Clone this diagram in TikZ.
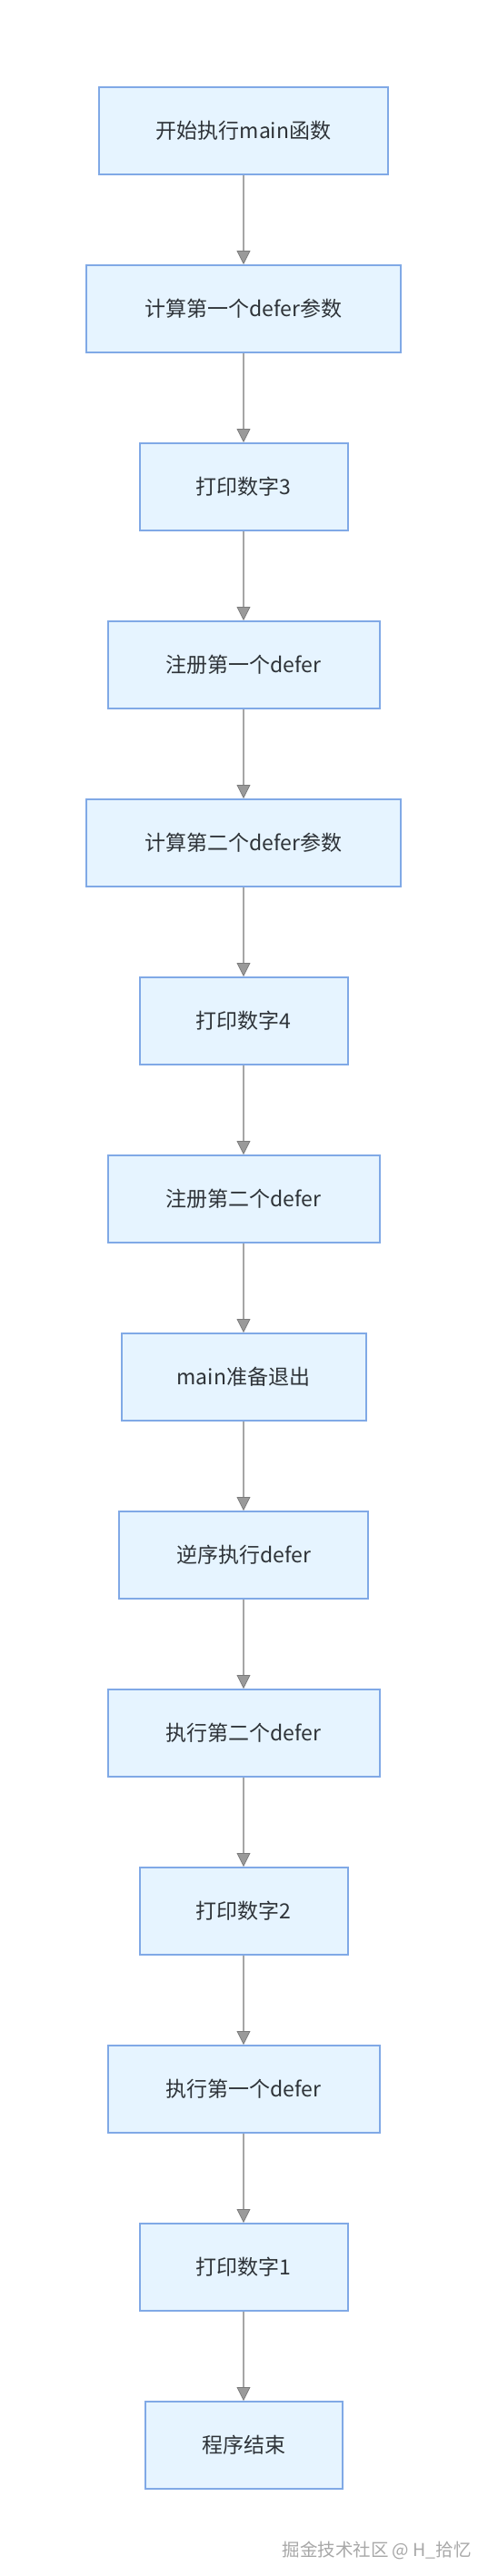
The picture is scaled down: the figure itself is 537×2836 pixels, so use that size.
\documentclass[tikz,border=0pt]{standalone}
\usepackage{fontspec}
\setmainfont{Noto Sans CJK SC}
\newfontfamily\cjk{Noto Sans CJK SC}
\usetikzlibrary{arrows.meta}
\definecolor{boxfill}{HTML}{E6F4FF}
\definecolor{boxline}{HTML}{80A9E6}
\definecolor{txtcol}{HTML}{2E3338}
\definecolor{arrcol}{HTML}{A6A6A6}
\definecolor{tipcol}{HTML}{9A9A9A}
\definecolor{wmcol}{HTML}{A8A8A8}
\tikzset{
  stepbox/.style={draw=boxline, fill=boxfill, line width=2pt, minimum height=96pt,
    inner sep=0pt, text=txtcol, font=\cjk\fontsize{23}{28}\selectfont},
  flowarr/.style={draw=arrcol, line width=1.5pt,
    -{Triangle[width=15pt,length=15pt,fill=tipcol,color=tipcol!80!black,line width=0.8pt]}}
}
\begin{document}
\begin{tikzpicture}[x=1pt,y=-1pt]
\useasboundingbox[fill=white] (0,0) rectangle (537,2836);
\node[stepbox, minimum width=318pt] (n1) at (268,144) {开始执行main函数};
\node[stepbox, minimum width=346pt] (n2) at (268,340) {计算第一个defer参数};
\node[stepbox, minimum width=229pt] (n3) at (268,536) {打印数字3};
\node[stepbox, minimum width=299pt] (n4) at (268,732) {注册第一个defer};
\node[stepbox, minimum width=346pt] (n5) at (268,928) {计算第二个defer参数};
\node[stepbox, minimum width=229pt] (n6) at (268,1124) {打印数字4};
\node[stepbox, minimum width=299pt] (n7) at (268,1320) {注册第二个defer};
\node[stepbox, minimum width=269pt] (n8) at (268,1516) {main准备退出};
\node[stepbox, minimum width=274pt] (n9) at (268,1712) {逆序执行defer};
\node[stepbox, minimum width=299pt] (n10) at (268,1908) {执行第二个defer};
\node[stepbox, minimum width=229pt] (n11) at (268,2104) {打印数字2};
\node[stepbox, minimum width=299pt] (n12) at (268,2300) {执行第一个defer};
\node[stepbox, minimum width=229pt] (n13) at (268,2496) {打印数字1};
\node[stepbox, minimum width=217pt] (n14) at (268,2692) {程序结束};
\foreach \a/\b in {n1/n2,n2/n3,n3/n4,n4/n5,n5/n6,n6/n7,n7/n8,n8/n9,n9/n10,n10/n11,n11/n12,n12/n13,n13/n14}
  \draw[flowarr] (\a.south) -- (\b.north);
\node[anchor=east, inner sep=0pt, text=wmcol, font=\cjk\fontsize{19.5}{22}\selectfont] (wm) at (519,2808) {掘金技术社区 @ H\_拾忆};
\end{tikzpicture}
\end{document}
